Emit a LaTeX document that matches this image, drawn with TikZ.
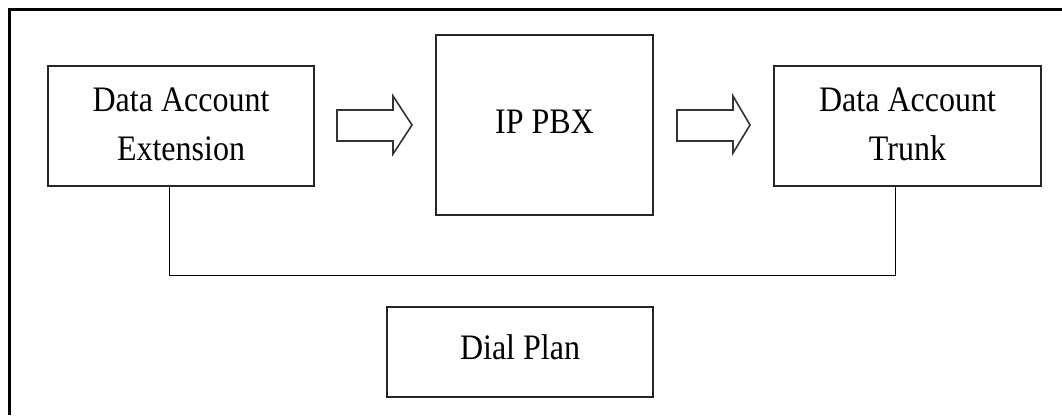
\documentclass[tikz,border=0pt]{standalone}
\usepackage{fontspec}
\setmainfont{Liberation Serif}
\begin{document}
\begin{tikzpicture}[x=1pt,y=-1pt,
  box/.style={draw=black!85,line width=1.6pt,inner sep=0pt,align=center,
    font=\fontsize{32}{44}\selectfont},
  link/.style={draw=black,line width=1pt},
  blockarrow/.style={draw=black!80,line width=1.6pt,line join=miter}]
\useasboundingbox (0,0) rectangle (1062,415);
\draw[line width=3pt] (9,415) -- (9,9) -- (1062,9);
\node[box,minimum width=266pt,minimum height=120pt] (ext) at (181,126)
  {\scalebox{1}[1.12]{\begin{tabular}{@{}c@{}}Data Account\\Extension\end{tabular}}};
\node[box,minimum width=217pt,minimum height=180pt] (pbx) at (544.5,125)
  {\raisebox{6pt}{\scalebox{1}[1.12]{IP PBX}}};
\node[box,minimum width=267pt,minimum height=120pt] (trunk) at (907.5,126)
  {\scalebox{1}[1.12]{\begin{tabular}{@{}c@{}}Data Account\\Trunk\end{tabular}}};
\node[box,minimum width=266pt,minimum height=90pt] (dial) at (520,352)
  {\raisebox{9pt}{\scalebox{1}[1.12]{Dial Plan}}};
\coordinate (bl) at (169,275);
\coordinate (br) at (895,275);
\draw[link] (ext.south -| bl) -- (bl) -- (br) -- (trunk.south -| br);
\draw[blockarrow] (337,110) -- (393,110) -- (393,96) -- (412,125) -- (393,154) -- (393,141) -- (337,141) -- cycle;
\draw[blockarrow] (677,110) -- (733,110) -- (733,96) -- (750,125) -- (733,153) -- (733,141) -- (677,141) -- cycle;
\end{tikzpicture}
\end{document}
